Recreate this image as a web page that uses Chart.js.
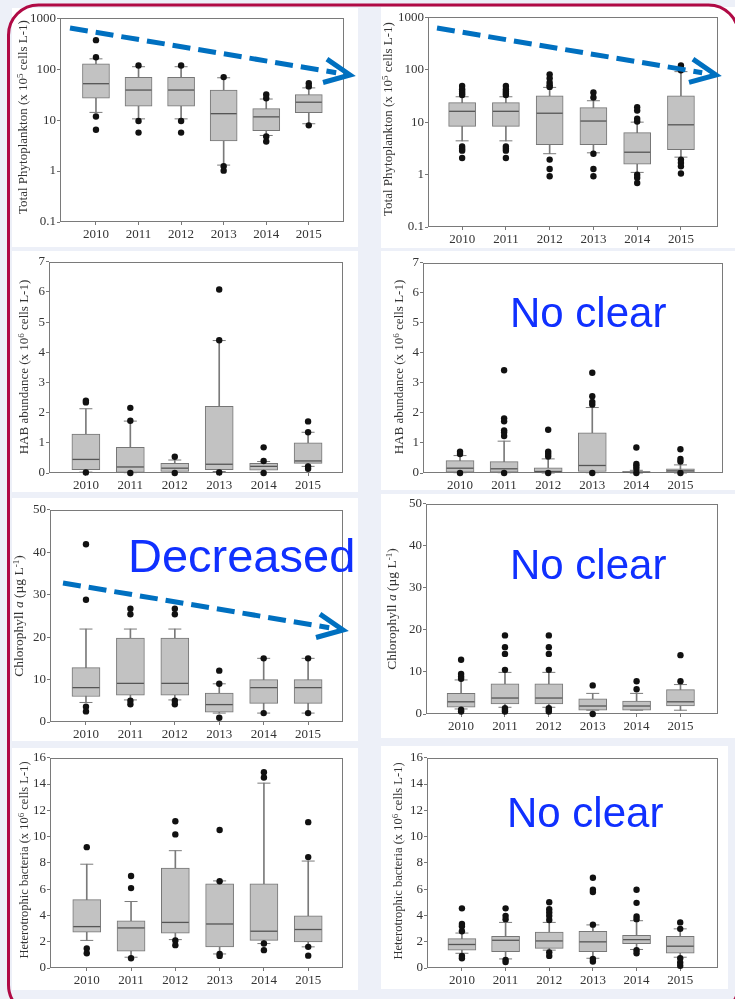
<!DOCTYPE html>
<html>
<head>
<meta charset="utf-8">
<script src="https://cdn.jsdelivr.net/npm/chart.js@4.4.1/dist/chart.umd.min.js"></script>
<style>
  html, body { margin: 0; padding: 0; }
  body { width: 735px; height: 999px; position: relative; overflow: hidden; background: #edf0f8; }
  .panel { position: absolute; background: #fff; }
  canvas.plot { position: absolute; }
  .ytitle { position: absolute; white-space: nowrap; transform: translate(-50%, -50%) rotate(-90deg);
            font-family: 'Liberation Serif', 'Times New Roman', serif; font-size: 13px; color: #333; line-height: 1; }
  .ytitle sup { font-size: 9px; vertical-align: 4px; line-height: 0; }
  .note { position: absolute; white-space: nowrap; font-family: 'Liberation Sans', Arial, sans-serif; color: #1030ff; line-height: 1; }
  svg.overlay { position: absolute; left: 0; top: 0; pointer-events: none; }
</style>
</head>
<body>
<script>
// ---------- categories ----------
const years = ['2010', '2011', '2012', '2013', '2014', '2015'];

// ---------- tick values ----------
const logTicks = [0.1, 1, 10, 100, 1000];
const habTicks = [0, 1, 2, 3, 4, 5, 6, 7];
const chlTicks = [0, 10, 20, 30, 40, 50];
const bacTicks = [0, 2, 4, 6, 8, 10, 12, 14, 16];

// ---------- Total phytoplankton (x 10^5 cells L-1), left ----------
const phyL_low  = [14.2, 10.6, 10.6, 1.31, 5.0, 8.5];
const phyL_q1   = [26.9, 18.9, 18.9, 3.9, 6.2, 14.0];
const phyL_med  = [52, 39, 39, 13.4, 11.6, 22.5];
const phyL_q3   = [127, 69, 69, 39, 16.8, 31.6];
const phyL_high = [160, 112, 112, 68, 26, 43];
const phyL_out  = [[372, 172, 11.8, 6.5], [118, 9.6, 5.7], [118, 9.6, 5.7], [70, 1.25, 1.02], [32, 27, 4.8, 3.8], [53, 46, 7.9]];

// ---------- Total phytoplankton (x 10^5 cells L-1), right ----------
const phyR_low  = [4.4, 4.4, 2.5, 2.6, 1.1, 2.15];
const phyR_q1   = [8.3, 8.3, 3.7, 3.7, 1.58, 3.0];
const phyR_med  = [16.1, 16.1, 14.8, 10.5, 2.67, 8.9];
const phyR_q3   = [23.5, 23.5, 31.9, 18.9, 6.3, 31.9];
const phyR_high = [30.5, 30.5, 46, 25.6, 10, 92];
const phyR_out  = [[49, 42.6, 38.4, 35.2, 32.8, 3.44, 3.12, 2.86, 2.07],
                   [49, 42.6, 38.4, 35.2, 32.8, 3.44, 3.12, 2.86, 2.07],
                   [81.6, 68.6, 56.9, 50.6, 47, 1.93, 1.28, 0.93],
                   [36.8, 29.5, 2.5, 1.28, 0.93],
                   [19.2, 16.6, 11.6, 10.3, 0.99, 0.87, 0.69],
                   [120, 109, 98, 1.93, 1.68, 1.44, 1.05]];

// ---------- HAB abundance (x 10^6 cells L-1), left ----------
const habL_low  = [0.03, 0.01, 0.02, 0.05, 0.02, 0.22];
const habL_q1   = [0.11, 0.02, 0.05, 0.11, 0.09, 0.32];
const habL_med  = [0.45, 0.2, 0.16, 0.29, 0.22, 0.4];
const habL_q3   = [1.29, 0.85, 0.32, 2.21, 0.32, 1.0];
const habL_high = [2.13, 1.72, 0.43, 4.39, 0.38, 1.35];
const habL_out  = [[2.40, 2.34, 0.02], [2.16, 1.73, 0], [0.54, 0], [6.08, 4.4, 0.02], [0.85, 0.40, 0], [1.71, 1.35, 0.22, 0.14]];

// ---------- HAB abundance (x 10^6 cells L-1), right ----------
const habR_low  = [0.01, 0.01, 0, 0.01, 0, 0];
const habR_q1   = [0.03, 0.03, 0.01, 0.05, 0.01, 0.01];
const habR_med  = [0.16, 0.14, 0.05, 0.25, 0.03, 0.07];
const habR_q3   = [0.41, 0.38, 0.17, 1.34, 0.05, 0.14];
const habR_high = [0.58, 1.06, 0.47, 2.18, 0.09, 0.27];
const habR_out  = [[0.71, 0.63, 0], [3.42, 1.82, 1.72, 1.42, 1.36, 1.23, 0], [1.44, 0.71, 0.63, 0.55, 0],
                   [3.34, 2.56, 2.37, 2.28, 0], [0.85, 0.30, 0.23, 0.14, 0], [0.79, 0.47, 0.38, 0]];

// ---------- Chlorophyll a (µg L-1), left ----------
const chlL_low  = [4.6, 5.2, 5.2, 2.1, 2.1, 2.1];
const chlL_q1   = [6.0, 6.3, 6.3, 2.3, 4.4, 4.4];
const chlL_med  = [8.1, 9.1, 9.1, 4.1, 8.1, 8.1];
const chlL_q3   = [12.8, 19.8, 19.8, 6.8, 10.0, 10.0];
const chlL_high = [21.9, 21.9, 21.9, 9.0, 15.0, 15.0];
const chlL_out  = [[41.9, 28.8, 3.6, 2.5], [26.7, 25.4, 5.0, 4.2], [26.7, 25.4, 5.0, 4.2], [12.1, 9.0, 1.0], [15.0, 2.1], [15.0, 2.1]];

// ---------- Chlorophyll a (µg L-1), right ----------
const chlR_low  = [1.2, 1.6, 1.6, 0.9, 0.9, 0.9];
const chlR_q1   = [1.6, 2.4, 2.4, 0.9, 0.9, 1.9];
const chlR_med  = [2.9, 3.8, 3.8, 1.9, 1.9, 2.9];
const chlR_q3   = [4.9, 7.2, 7.2, 3.6, 3.1, 5.8];
const chlR_high = [8.1, 9.9, 9.9, 4.9, 4.9, 7.0];
const chlR_out  = [[12.9, 9.5, 8.9, 8.4, 1.0, 0.6], [18.7, 15.9, 14.3, 10.5, 1.4, 1.0, 0.6], [18.7, 15.9, 14.3, 10.5, 1.4, 1.0, 0.6],
                   [6.8, 0], [7.8, 5.9], [14.0, 7.8]];

// ---------- Heterotrophic bacteria (x 10^6 cells L-1), left ----------
const bacL_low  = [2.1, 0.82, 2.16, 1.07, 1.86, 1.61];
const bacL_q1   = [2.73, 1.29, 2.65, 1.61, 2.1, 1.99];
const bacL_med  = [3.15, 3.05, 3.47, 3.35, 2.8, 2.93];
const bacL_q3   = [5.2, 3.6, 7.6, 6.4, 6.4, 3.97];
const bacL_high = [7.9, 5.06, 8.93, 6.63, 14.07, 8.14];
const bacL_out  = [[9.2, 1.49, 1.12], [7.0, 6.08, 0.74], [11.17, 10.17, 2.1, 1.74], [10.5, 6.6, 1.07, 0.92], [14.9, 14.5, 1.86, 1.36], [11.1, 8.44, 1.61, 0.94]];

// ---------- Heterotrophic bacteria (x 10^6 cells L-1), right ----------
const bacR_low  = [1.12, 0.69, 1.36, 0.74, 1.41, 0.82];
const bacR_q1   = [1.36, 1.24, 1.49, 1.24, 1.86, 1.12];
const bacR_med  = [1.79, 2.11, 2.06, 1.99, 2.16, 1.66];
const bacR_q3   = [2.23, 2.41, 2.73, 2.8, 2.48, 2.41];
const bacR_high = [2.66, 3.47, 3.47, 3.28, 3.6, 2.98];
const bacR_out  = [[4.54, 3.35, 3.18, 2.8, 0.92, 0.74], [4.54, 3.97, 3.72, 0.62, 0.45], [5.01, 4.47, 4.22, 3.97, 3.65, 1.19, 0.92],
                   [6.87, 5.96, 5.78, 3.3, 0.69, 0.5], [5.96, 4.96, 3.92, 3.72, 1.36, 1.12], [3.47, 2.98, 0.74, 0.42, 0.17]];

// ---------- page layout ----------
const whitePanels = [
  [12, 8, 358, 247], [12, 251, 358, 492], [12, 498, 358, 741], [12, 748, 358, 990],
  [381, 7, 735, 248], [381, 251, 735, 490], [381, 494, 735, 738], [381, 746, 728, 989]
];
whitePanels.forEach(([l, t, r, b]) => {
  const d = document.createElement('div');
  d.className = 'panel';
  Object.assign(d.style, { left: l + 'px', top: t + 'px', width: (r - l) + 'px', height: (b - t) + 'px' });
  document.body.appendChild(d);
});

Chart.defaults.font.family = "'Liberation Serif', 'Times New Roman', serif";
Chart.defaults.font.size = 13;
Chart.defaults.color = '#333';

// plot frame around the chart area
const framePlugin = {
  id: 'frame',
  beforeDatasetsDraw(chart) {
    const { ctx, chartArea: a } = chart;
    ctx.save();
    ctx.strokeStyle = '#7a7a7a';
    ctx.lineWidth = 1;
    ctx.strokeRect(Math.round(a.left) + 0.5, Math.round(a.top) + 0.5,
                   Math.round(a.right - a.left) - 1, Math.round(a.bottom - a.top) - 1);
    ctx.restore();
  }
};

function boxChart(p) {
  const yw = 46, xh = 24, padT = 10, padR = 6;
  const [L, T, R, B] = p.plot;
  const left = L - yw, top = T - padT, w = R + padR - left, h = B + xh - top;
  const cv = document.createElement('canvas');
  cv.className = 'plot';
  cv.width = w; cv.height = h;
  Object.assign(cv.style, { left: left + 'px', top: top + 'px', width: w + 'px', height: h + 'px' });
  document.body.appendChild(cv);

  const at = arr => arr.map((v, i) => ({ x: i, y: v }));
  const spans = (a, b) => a.map((v, i) => ({ x: i, y: [v, b[i]] }));
  const outliers = [];
  p.out.forEach((list, i) => list.forEach(v => outliers.push({ x: i, y: v })));

  const yScale = {
    type: p.log ? 'logarithmic' : 'linear',
    min: p.ticks[0], max: p.ticks[p.ticks.length - 1],
    afterBuildTicks: s => { s.ticks = p.ticks.map(v => ({ value: v })); },
    afterFit: s => { s.width = yw; },
    ticks: { padding: 1, callback: v => String(v), autoSkip: false },
    grid: { drawOnChartArea: false, tickLength: 3, color: '#777' },
    border: { display: false }
  };

  new Chart(cv, {
    data: {
      datasets: [
        // whisker stems
        { type: 'bar', data: spans(p.low, p.high), grouped: false, barThickness: 1, backgroundColor: '#7a7a7a',
          borderWidth: 0, order: 5, clip: false },
        // interquartile boxes
        { type: 'bar', data: spans(p.q1, p.q3), grouped: false, barThickness: p.boxW, backgroundColor: '#c2c2c2',
          borderColor: '#767676', borderWidth: 1, borderSkipped: false, order: 4, clip: false },
        // whisker caps
        { type: 'scatter', data: [...at(p.low), ...at(p.high)], pointStyle: 'line', radius: 6.5,
          borderColor: '#7a7a7a', borderWidth: 1, order: 3, clip: false },
        // medians
        { type: 'scatter', data: at(p.med), pointStyle: 'line', radius: p.boxW / 2 - 0.5,
          borderColor: '#555', borderWidth: 1.3, order: 2, clip: false },
        // outliers
        { type: 'scatter', data: outliers, pointStyle: 'circle', radius: 3.2,
          backgroundColor: '#111', borderColor: '#111', borderWidth: 0, order: 1, clip: false }
      ]
    },
    options: {
      responsive: false,
      animation: false,
      events: [],
      layout: { padding: { top: padT, right: padR, left: 0, bottom: 0 } },
      plugins: { legend: { display: false }, tooltip: { enabled: false } },
      scales: {
        x: {
          type: 'linear', offset: false, min: p.xr[0], max: p.xr[1],
          afterBuildTicks: s => { s.ticks = years.map((_, i) => ({ value: i })); },
          afterFit: s => { s.height = xh; },
          ticks: { padding: 2, maxRotation: 0, autoSkip: false, callback: v => years[v] },
          grid: { drawOnChartArea: false, tickLength: 3, color: '#777', offset: false },
          border: { display: false }
        },
        y: yScale
      }
    },
    plugins: [framePlugin]
  });
}

const charts = [
  { plot: [60, 14, 352, 222],  xr: [-0.845, 5.82], log: true, ticks: logTicks, boxW: 27,
    low: phyL_low, q1: phyL_q1, med: phyL_med, q3: phyL_q3, high: phyL_high, out: phyL_out },
  { plot: [428, 13, 726, 227], xr: [-0.78, 5.84],  log: true, ticks: logTicks, boxW: 27,
    low: phyR_low, q1: phyR_q1, med: phyR_med, q3: phyR_q3, high: phyR_high, out: phyR_out },
  { plot: [49, 257, 352, 473], xr: [-0.83, 5.79],  ticks: habTicks, boxW: 28,
    low: habL_low, q1: habL_q1, med: habL_med, q3: habL_q3, high: habL_high, out: habL_out },
  { plot: [423, 258, 732, 473], xr: [-0.84, 5.97], ticks: habTicks, boxW: 28,
    low: habR_low, q1: habR_q1, med: habR_med, q3: habR_q3, high: habR_high, out: habR_out },
  { plot: [50, 505, 352, 722], xr: [-0.81, 5.79],  ticks: chlTicks, boxW: 28,
    low: chlL_low, q1: chlL_q1, med: chlL_med, q3: chlL_q3, high: chlL_high, out: chlL_out },
  { plot: [426, 499, 727, 714], xr: [-0.80, 5.86], ticks: chlTicks, boxW: 28,
    low: chlR_low, q1: chlR_q1, med: chlR_med, q3: chlR_q3, high: chlR_high, out: chlR_out },
  { plot: [50, 753, 352, 968], xr: [-0.83, 5.79],  ticks: bacTicks, boxW: 28,
    low: bacL_low, q1: bacL_q1, med: bacL_med, q3: bacL_q3, high: bacL_high, out: bacL_out },
  { plot: [427, 753, 727, 968], xr: [-0.80, 5.87], ticks: bacTicks, boxW: 28,
    low: bacR_low, q1: bacR_q1, med: bacR_med, q3: bacR_q3, high: bacR_high, out: bacR_out }
];
charts.forEach(boxChart);

// ---------- y-axis titles ----------
const phyTitle = 'Total Phytoplankton (x 10<sup>5</sup> cells L-1)';
const habTitle = 'HAB abundance (x 10<sup>6</sup> cells L-1)';
const chlTitle = 'Chlorophyll <i>a</i> (µg L<sup>-1</sup>)';
const bacTitle = 'Heterotrophic bacteria (x 10<sup>6</sup> cells L-1)';
[[phyTitle, 22, 117, 13], [phyTitle, 387, 119, 13], [habTitle, 23, 367, 13], [habTitle, 398, 367, 13],
 [chlTitle, 19, 616, 13.5], [chlTitle, 392, 609, 13.5], [bacTitle, 24, 860, 12.5], [bacTitle, 398, 861, 12.5]]
  .forEach(([html, cx, cy, fs]) => {
    const d = document.createElement('div');
    d.className = 'ytitle';
    d.innerHTML = html;
    Object.assign(d.style, { left: cx + 'px', top: cy + 'px', fontSize: fs + 'px' });
    document.body.appendChild(d);
  });

// ---------- trend notes ----------
[['No clear', 510, 328, 42], ['Decreased', 128, 572, 47], ['No clear', 510, 580, 42], ['No clear', 507, 828, 42]]
  .forEach(([txt, x, baseline, fs]) => {
    const d = document.createElement('div');
    d.className = 'note';
    d.textContent = txt;
    Object.assign(d.style, { left: x + 'px', top: (baseline - 0.8465 * fs) + 'px', fontSize: fs + 'px' });
    document.body.appendChild(d);
  });

// ---------- frame and trend arrows ----------
const NS = 'http://www.w3.org/2000/svg';
const svg = document.createElementNS(NS, 'svg');
svg.setAttribute('class', 'overlay');
svg.setAttribute('width', 735); svg.setAttribute('height', 999);
document.body.appendChild(svg);
function el(name, attrs) {
  const e = document.createElementNS(NS, name);
  for (const k in attrs) e.setAttribute(k, attrs[k]);
  svg.appendChild(e);
  return e;
}
el('rect', { x: 8.5, y: 5, width: 730, height: 1010, rx: 30, ry: 30, fill: 'none', stroke: '#b00a45', 'stroke-width': 3 });

function arrow(x1, y1, x2, y2) {
  const len = Math.hypot(x2 - x1, y2 - y1);
  const dx = (x2 - x1) / len, dy = (y2 - y1) / len;
  el('line', { x1, y1, x2: x2 - dx * 14, y2: y2 - dy * 14, stroke: '#0070c0', 'stroke-width': 5, 'stroke-dasharray': '18 8' });
  const arm = 28, th = 25 * Math.PI / 180;
  const rot = a => [dx * Math.cos(a) - dy * Math.sin(a), dx * Math.sin(a) + dy * Math.cos(a)];
  const [ax, ay] = rot(th), [bx, by] = rot(-th);
  el('polyline', { points: `${x2 - ax * arm},${y2 - ay * arm} ${x2},${y2} ${x2 - bx * arm},${y2 - by * arm}`,
                   fill: 'none', stroke: '#0070c0', 'stroke-width': 5, 'stroke-linejoin': 'miter' });
}
arrow(70, 28, 350, 75);
arrow(437, 28, 716, 75);
arrow(63, 583, 343, 630);
</script>
</body>
</html>
